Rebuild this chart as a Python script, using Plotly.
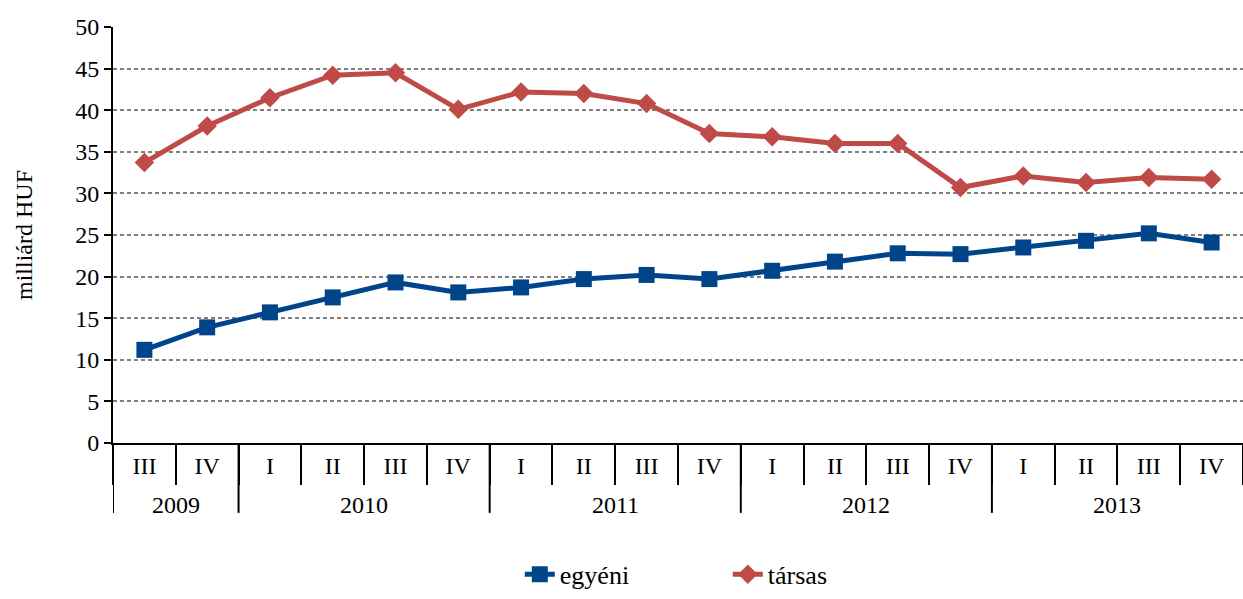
import plotly.graph_objects as go

years = ["2009", "2009", "2010", "2010", "2010", "2010", "2011", "2011", "2011", "2011",
         "2012", "2012", "2012", "2012", "2013", "2013", "2013", "2013"]
quarters = ["III", "IV", "I", "II", "III", "IV", "I", "II", "III", "IV",
            "I", "II", "III", "IV", "I", "II", "III", "IV"]
egyeni = [11.2, 13.9, 15.7, 17.5, 19.3, 18.1, 18.7, 19.7, 20.2, 19.7,
          20.7, 21.8, 22.8, 22.7, 23.5, 24.3, 25.2, 24.1]
tarsas = [33.7, 38.1, 41.5, 44.2, 44.5, 40.1, 42.2, 42.0, 40.8, 37.2,
          36.8, 36.0, 36.0, 30.7, 32.1, 31.3, 31.9, 31.7]

cats = [f"{y} {q}" for y, q in zip(years, quarters)]

FONT = "Liberation Serif, Times New Roman, serif"
BLUE = "#00458a"
RED = "#be4b48"

fig = go.Figure()
fig.add_trace(go.Scatter(
    x=cats, y=egyeni, name="egyéni", mode="lines+markers",
    line=dict(color=BLUE, width=5),
    marker=dict(symbol="square", size=16, color=BLUE),
))
fig.add_trace(go.Scatter(
    x=cats, y=tarsas, name="társas", mode="lines+markers",
    line=dict(color=RED, width=5),
    marker=dict(symbol="diamond", size=15, color=RED),
))

# year groups
groups = []
for i, y in enumerate(years):
    if not groups or groups[-1][0] != y:
        groups.append([y, i, i])
    else:
        groups[-1][2] = i

for y, s, e in groups:
    fig.add_shape(type="line", xref="x", yref="paper", x0=s - 0.5, x1=s - 0.5,
                  y0=0, y1=-0.168, line=dict(color="black", width=2))
    fig.add_annotation(x=(s + e) / 2, y=-0.149, xref="x", yref="paper", text=y,
                       showarrow=False, yanchor="middle",
                       font=dict(family=FONT, size=24, color="black"))

fig.update_layout(
    width=1243, height=599,
    margin=dict(l=113, r=0, t=27, b=156),
    paper_bgcolor="white", plot_bgcolor="white",
    font=dict(family=FONT, size=24, color="black"),
    showlegend=True,
    legend=dict(orientation="h", x=0.36, xanchor="left", y=-0.372, yanchor="bottom",
                font=dict(family=FONT, size=26, color="black"),
                entrywidth=163, entrywidthmode="pixels", tracegroupgap=0),
)
fig.update_yaxes(
    range=[0, 50], dtick=5, tick0=0, automargin=False,
    showline=True, linecolor="black", linewidth=2,
    ticks="outside", ticklen=7, tickwidth=2, tickcolor="black",
    tickfont=dict(family=FONT, size=24, color="black"),
    showgrid=True, gridcolor="#7f7f7f", gridwidth=2, griddash="4px,3px",
    zeroline=False,
    title=dict(text="milliárd HUF", standoff=36,
               font=dict(family=FONT, size=24, color="black")),
)
fig.update_xaxes(
    type="category", automargin=False,
    tickvals=cats, ticktext=quarters,
    showline=True, linecolor="black", linewidth=2,
    ticks="outside", ticklen=40, tickwidth=2, tickcolor="black",
    tickson="boundaries",
    tickfont=dict(family=FONT, size=24, color="black"),
    showgrid=False, zeroline=False,
    range=[-0.5, 17.5],
)

fig.write_html(
    "out.html",
    config={"displayModeBar": False},
    post_script="document.body.style.margin='0';document.body.style.overflow='hidden';"
                "document.documentElement.style.overflow='hidden';",
)
